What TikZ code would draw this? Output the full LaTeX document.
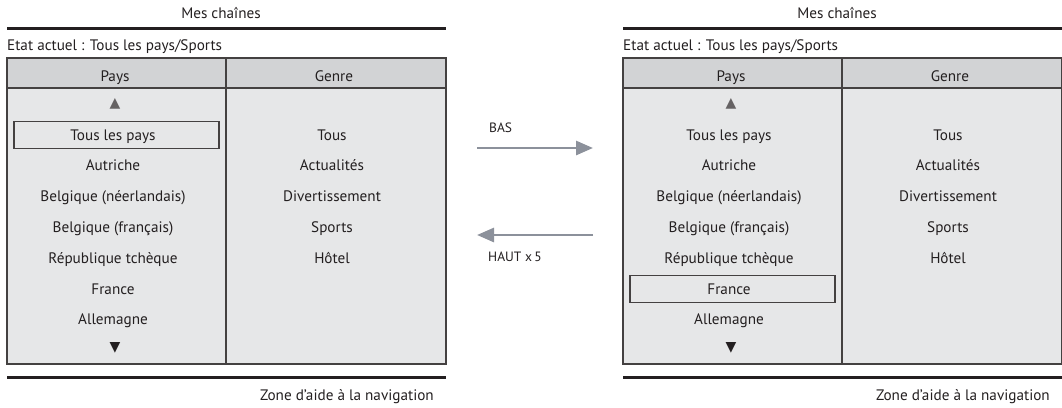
\documentclass[tikz,border=0pt]{standalone}
\usepackage{fontspec}
\setmainfont{PT Sans}
\usetikzlibrary{arrows.meta}
\definecolor{hdrfill}{HTML}{D2D3D5}
\definecolor{bodyfill}{HTML}{E6E7E8}
\definecolor{txt}{HTML}{231F20}
\definecolor{arrowc}{HTML}{8C919B}
\tikzset{
  lbl/.style={font=\fontsize{15.2}{17}\selectfont, text=txt, inner sep=0pt, anchor=base},
  small/.style={font=\fontsize{13.5}{15}\selectfont, text=txt, inner sep=0pt, anchor=base west},
  tri/.style={font=\fontsize{14}{16}\selectfont, inner sep=0pt},
  border/.style={draw=txt!85, line width=1.4pt},
  thick rule/.style={line width=3pt, draw=txt},
  hl/.style={draw=txt!85, line width=1.4pt},
  navarrow/.style={draw=arrowc, line width=2.8pt, -{Triangle[length=17pt,width=14pt]}},
}
\newcommand{\panel}[3]{%
  % #1 = x offset, #2 = name prefix, #3 = highlighted row index
  \begin{scope}[xshift=#1pt]
    \node[lbl] (#2title) at (221,18.5) {Mes chaînes};
    \coordinate (#2rA) at (7,28);
    \coordinate (#2rB) at (446,28);
    \draw[thick rule] (#2rA) -- (#2rB);
    \node[lbl, anchor=base west] (#2state) at (7,50.5) {Etat actuel : Tous les pays/Sports};
    \fill[bodyfill] (7,88) rectangle (446,364);
    \fill[hdrfill] (7,58) rectangle (446,88);
    \draw[border] (7,58) rectangle (446,364);
    \draw[border] (7,88) -- (446,88);
    \draw[border] (226,58) -- (226,364);
    \node[lbl] (#2pays) at (115,81) {Pays};
    \node[lbl] (#2genre) at (334,81) {Genre};
    \node[tri, text=txt!70] (#2up) at (115,104) {\fontspec{DejaVu Sans}▲};
    \node[tri, text=txt] (#2down) at (115,348) {\fontspec{DejaVu Sans}▼};
    \foreach \t [count=\i] in {Tous les pays,Autriche,Belgique (néerlandais),Belgique (français),République tchèque,France,Allemagne}{
      \node[lbl] (#2c\i) at (113,{140+30.8*(\i-1)}) {\t};
    }
    \foreach \t [count=\i] in {Tous,Actualités,Divertissement,Sports,Hôtel}{
      \node[lbl] (#2g\i) at (332,{140+30.8*(\i-1)}) {\t};
    }
    \draw[hl] (14,{121.5+30.8*(#3-1)}) rectangle (219,{148.5+30.8*(#3-1)});
    \coordinate (#2bA) at (7,377);
    \coordinate (#2bB) at (446,377);
    \draw[thick rule] (#2bA) -- (#2bB);
    \node[lbl, anchor=base east] (#2zone) at (434,400) {Zone d'aide à la navigation};
  \end{scope}}
\begin{document}
\begin{tikzpicture}[x=1pt,y=-1pt]
  \useasboundingbox (0,0) rectangle (1062,407);
  \panel{0}{L}{1}
  \panel{616}{R}{6}
  \coordinate (a1s) at (477,148);
  \coordinate (a1e) at (593,148);
  \draw[navarrow] (a1s) -- (a1e);
  \node[small] (bas) at (489,132) {BAS};
  \coordinate (a2s) at (593,235);
  \coordinate (a2e) at (477,235);
  \draw[navarrow] (a2s) -- (a2e);
  \node[small] (haut) at (488,261) {HAUT x\,5};
\end{tikzpicture}
\end{document}
